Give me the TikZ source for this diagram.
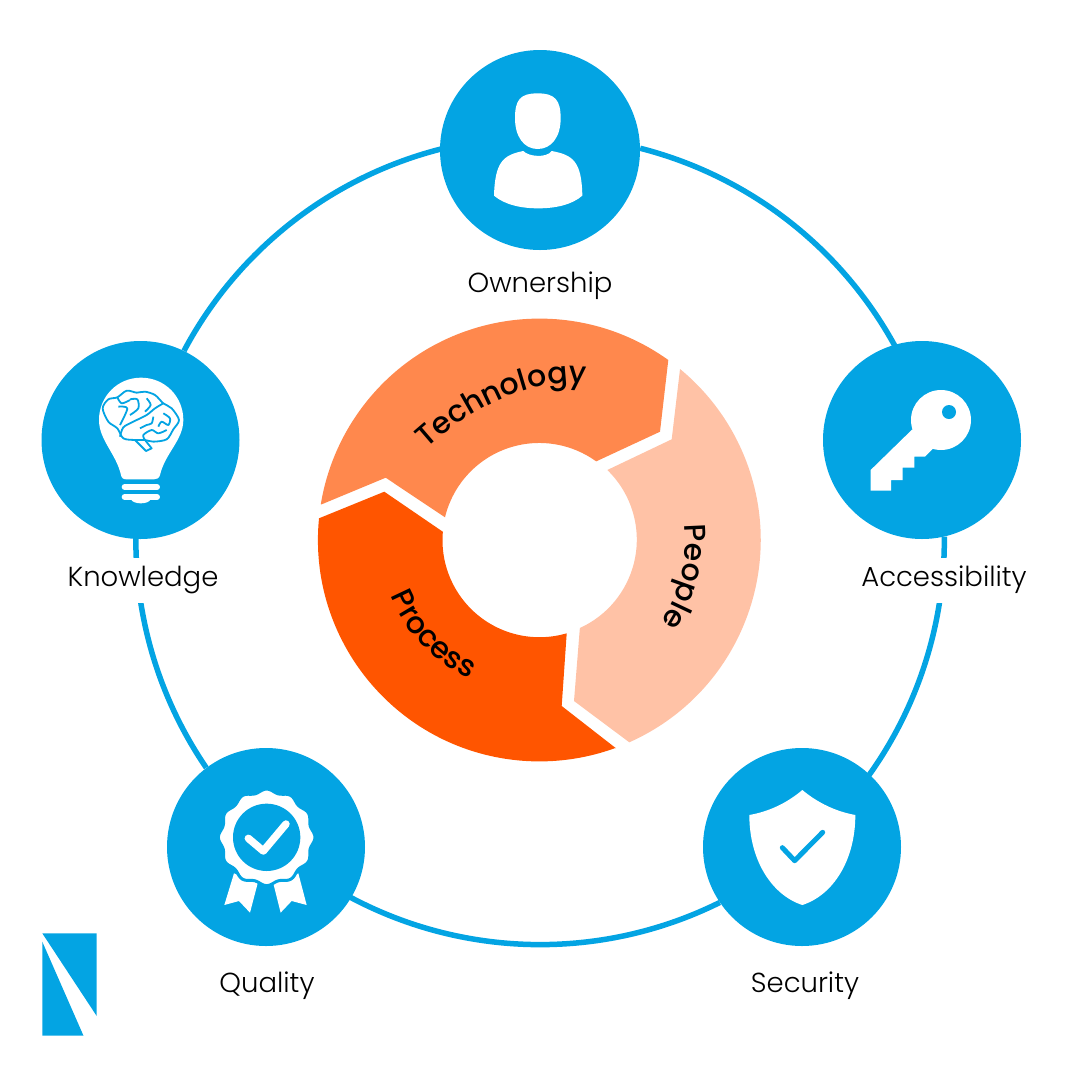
\documentclass[tikz,border=0pt]{standalone}
\usepackage{fontspec}
\setmainfont{Poppins}[UprightFont=* Light]
\newfontfamily\donutfont{Poppins}[UprightFont=* Medium]
\usetikzlibrary{decorations.text,backgrounds}
\definecolor{hubblue}{HTML}{03A4E3}
\definecolor{techorange}{HTML}{FF884D}
\definecolor{peoplepeach}{HTML}{FFC2A6}
\definecolor{processred}{HTML}{FF5500}
\tikzset{
   hubnode/.style={circle,fill=hubblue,inner sep=0pt,minimum size=198pt},
   hublabel/.style={font=\fontsize{27.5}{27.5}\selectfont,fill=white,inner sep=0pt,
      text height=19pt,text depth=6pt,minimum height=45pt},
   ringline/.style={draw=hubblue,line width=5.5pt},
   brainline/.style={draw=hubblue,line width=1.8pt,line join=round},
   bulbbar/.style={draw=white,line width=6pt,line cap=round},
   donutlabel/.style={decorate,decoration={text along path,text align=center,
      text={|\donutfont\fontsize{30}{30}\selectfont|#1}}}
}
\begin{document}
\begin{tikzpicture}[x=1pt,y=-1pt]
\useasboundingbox (0,0) rectangle (1080,1080);
\node[hubnode,minimum size=200pt] (own) at (540,150) {};
\node[hubnode] (acc) at (922,440) {};
\node[hubnode] (sec) at (802,847) {};
\node[hubnode] (qual) at (266,847) {};
\node[hubnode] (know) at (140.5,440) {};
\node[hublabel] (ownlabel) at (540,286) {Ownership};
\node[hublabel] (acclabel) at (944,580) {Accessibility};
\node[hublabel] (seclabel) at (805,986) {Security};
\node[hublabel] (quallabel) at (267,986) {Quality};
\node[hublabel] (knowlabel) at (143,580) {Knowledge};
\begin{pgfonlayer}{background}
  \draw[ringline] (own.1) arc[start angle=75.7,end angle=27,radius=404pt];
  \draw[ringline] (acc.283) arc[start angle=0.5,end angle=-37,radius=404pt];
  \draw[ringline] (sec.214) arc[start angle=-63.6,end angle=-119,radius=404pt];
  \draw[ringline] (qual.127) arc[start angle=214.34,end angle=178,radius=404pt];
  \draw[ringline] (know.64) arc[start angle=152,end angle=103,radius=404pt];
\end{pgfonlayer}
% donut
\fill[techorange] (321.7,504.3) -- (385.7,477.7) -- (445,517.3)
   arc[start angle=166.5,end angle=54.1,radius=97pt] -- (660,431.7) -- (668.3,360)
   arc[start angle=54.4,end angle=170.7,radius=221.5pt] -- cycle;
\fill[peoplepeach] (680,369.3) -- (671.7,439.3) -- (607.3,470)
   arc[start angle=45.9,end angle=-65.6,radius=97pt] -- (574,701) -- (629.3,742.3)
   arc[start angle=-66,end angle=50.5,radius=221.5pt] -- cycle;
\fill[processred] (616,748.3) -- (561.7,706) -- (566.7,633.3)
   arc[start angle=-73.7,end angle=-185,radius=97pt] -- (384.3,491.7) -- (319,518.3)
   arc[start angle=174.4,end angle=290.2,radius=221.5pt] -- cycle;
\path[donutlabel=Technology] (424,451) .. controls (470,408) and (535,375) .. (590,385);
\path[donutlabel=People] (684,520) arc[start angle=8,end angle=-36,radius=146pt];
\path[donutlabel=Process] (386,583) arc[start angle=197,end angle=250,radius=156pt];
% person
\begin{scope}[shift={(440,50)},scale=1/3]
  \fill[white] (293,130) .. controls (345,130) and (362,150) .. (362,205)
     .. controls (362,260) and (335,297) .. (293,297)
     .. controls (252,297) and (225,260) .. (225,205)
     .. controls (225,150) and (240,130) .. (293,130) -- cycle;
  \fill[white] (250,303) .. controls (265,320) and (320,325) .. (335,303)
     .. controls (400,315) and (425,335) .. (427,437)
     .. controls (395,465) and (345,475) .. (295,475)
     .. controls (245,475) and (195,465) .. (162,437)
     .. controls (165,335) and (190,315) .. (250,303) -- cycle;
\end{scope}
% bulb
\begin{scope}[shift={(30,340)},scale=1/3]
  \fill[white] (333,113) .. controls (405,113) and (460,170) .. (460,240)
     .. controls (460,300) and (405,340) .. (390,405)
     .. controls (388,415) and (380,418) .. (372,418) -- (290,418)
     .. controls (280,418) and (275,415) .. (273,405)
     .. controls (258,340) and (207,300) .. (207,240)
     .. controls (207,170) and (262,113) .. (333,113) -- cycle;
  \draw[bulbbar] (284,441) -- (381,441);
  \draw[bulbbar] (284,471) -- (381,471);
  \fill[white] (303,478) .. controls (310,494) and (355,494) .. (362,478) -- cycle;
  \draw[brainline] plot[smooth cycle] coordinates {(218,205) (235,178)
     (262,172) (290,152) (320,158) (345,155) (375,165) (400,190) (425,205) (447,240) (430,268)
     (410,298) (370,305) (345,300) (315,300) (280,295) (262,265) (235,245)};
  \draw[brainline] (315,300) -- (348,333) -- (365,325) -- (345,300);
  \draw[brainline] plot[smooth] coordinates {(270,290) (280,262) (310,245) (350,225) (375,205) (400,190)};
  \draw[brainline] plot[smooth] coordinates {(262,172) (275,190) (300,180)};
  \draw[brainline] plot[smooth] coordinates {(265,200) (292,205) (270,255)};
  \draw[brainline] plot[smooth] coordinates {(300,178) (322,178) (325,205) (300,225)};
  \draw[brainline] plot[smooth] coordinates {(350,175) (362,195) (345,215)};
  \draw[brainline] plot[smooth] coordinates {(345,300) (340,285) (365,270) (385,280) (410,270)};
  \draw[brainline] plot[smooth] coordinates {(400,220) (420,235) (415,255) (395,245) (385,260)};
  \draw[brainline] plot[smooth] coordinates {(330,265) (350,255) (365,250) (370,230)};
\end{scope}
% rosette
\begin{scope}[shift={(160,750)},scale=1/3]
  \fill[white] (222,370) -- (193,465) -- (237,453) -- (270,488) -- (293,400) -- cycle;
  \fill[white] (340,400) -- (362,488) -- (395,453) -- (440,465) -- (415,370) -- cycle;
  \draw[hubblue,line width=3pt,fill=white] plot[domain=0:360,samples=121,smooth]
     ({320+(140+5*cos(12*\x))*cos(\x)},{262+(140+5*cos(12*\x))*sin(\x)}) -- cycle;
  \fill[hubblue] (320,262) circle (101pt);
  \draw[white,line width=7.5pt,line cap=round,line join=round] (265,265) -- (310,303) -- (378,222);
\end{scope}
% shield
\begin{scope}[shift={(700,750)},scale=1/3]
  \fill[white] (307,120) .. controls (260,160) and (205,185) .. (148,195)
     .. controls (148,330) and (215,435) .. (307,465)
     .. controls (400,435) and (466,330) .. (466,195)
     .. controls (410,185) and (355,160) .. (307,120) -- cycle;
  \draw[hubblue,line width=5pt,line cap=round,line join=round] (247,293) -- (284,332) -- (368,247);
\end{scope}
% key
\begin{scope}[shift={(820,340)},scale=1/3]
  \fill[white] (363,240) circle (90pt);
  \fill[white] (277,268) -- (152,390) -- (152,452) -- (213,452) -- (213,420) -- (248,420)
     -- (248,383) -- (283,383) -- (283,350) -- (315,350) -- (340,325) -- cycle;
  \fill[hubblue] (387,216) circle (21pt);
\end{scope}
% logo
\fill[hubblue] (42.3,933.3) -- (96.7,933.3) -- (96.7,1016) -- cycle;
\fill[hubblue] (42.3,941.7) -- (83.5,1035.7) -- (42.3,1035.7) -- cycle;
\end{tikzpicture}
\end{document}
